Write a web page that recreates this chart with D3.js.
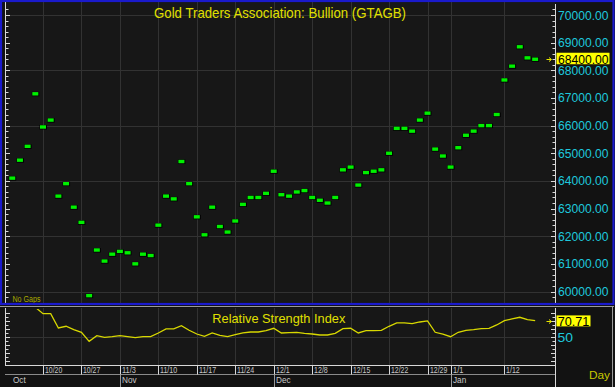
<!DOCTYPE html>
<html><head><meta charset="utf-8">
<script src="https://cdn.jsdelivr.net/npm/d3@7"></script>
<style>body{margin:0;background:#121212;} svg{display:block;font-family:"Liberation Sans",Arial,sans-serif;}</style>
</head><body><svg id="c" width="615" height="387"></svg>
<script>
// ---- data ----
const startDate = "2014-10-14";
const endDate = "2015-01-16";
const price = [64100,64750,65250,67150,65950,66200,63450,63900,63050,62500,
  59850,61500,61100,61350,61450,61400,61000,61350,61300,62400,
  63450,63350,64700,63900,62700,62050,63050,62350,62150,62550,
  63150,63400,63400,63550,64350,63500,63450,63600,63650,63400,
  63300,63200,63400,64400,64500,63850,64300,64350,64400,65000,
  65900,65900,65800,66200,66450,65150,64900,64500,65200,65650,
  65800,66000,66000,66400,67650,68150,68850,68450,68400];
const rsi = [null,null,null,87.5,79.5,79.5,61.6,63.75,59.5,56.25,
  45,52,50,50.75,52,50.75,49.5,50.75,50.75,55.4,
  60.4,60.4,64.5,58.75,54.1,51.25,55.4,52.5,50.75,53.25,
  55.4,56.6,56.6,58.25,61.25,55.4,55.75,56.25,55,54.1,
  52.9,52.9,55,60.75,61.25,55.4,58.25,58.25,58.75,63.75,
  67.9,67.9,67,69.1,70.4,56.25,54.1,50.75,56.25,58.75,
  59.5,60.75,61.25,65.4,70.75,72.9,75,72,70.71];
const weekTicks = ["2014-10-20","2014-10-27","2014-11-03","2014-11-10","2014-11-17","2014-11-24",
  "2014-12-01","2014-12-08","2014-12-15","2014-12-22","2014-12-29","2015-01-01","2015-01-12"];
const weekLabels = ["10/20","10/27","11/3","11/10","11/17","11/24","12/1","12/8","12/15","12/22","12/29","1/1","1/12"];
const monthStarts = ["2014-11-03","2014-12-01","2015-01-01"];
const monthLabels = ["Nov","Dec","Jan"];
const firstMonthLabel = "Oct";
const priceTicks = [60000,61000,62000,63000,64000,65000,66000,67000,68000,69000,70000];
const priceGrid = [60000,62000,64000,66000,68000,70000];
const lastPrice = 68400;
const lastRsi = 70.71;
const rsiRef = 50;
const title = "Gold Traders Association: Bullion (GTAGB)";
const rsiTitle = "Relative Strength Index";

// ---- scales ----
const parse = d3.timeParse("%Y-%m-%d"), fmt = d3.timeFormat("%Y-%m-%d");
const days = d3.timeDay.range(parse(startDate), d3.timeDay.offset(parse(endDate), 1))
  .filter(d => d.getDay() % 6 !== 0).map(fmt);
const x = d3.scalePoint().domain(days).range([12.24, 535.16]);
const y = d3.scaleLinear().domain([60000, 70000]).range([291.5, 15]);
const yr = d3.scaleLinear().domain([50, 70.71]).range([337.3, 320.7]);

const svg = d3.select("#c");
const L = 5, R = 555, T = 2, B = 303, RT = 308, RB = 365;

svg.append("rect").attr("width",615).attr("height",387).attr("fill","#121212");
// main plot bg
svg.append("rect").attr("x",L).attr("y",T).attr("width",R-L).attr("height",B-T).attr("fill","#171717");
svg.append("rect").attr("x",L).attr("y",RT).attr("width",R-L).attr("height",RB-RT).attr("fill","#171717");

const grid = "#323232";
// vertical grid lines
weekTicks.forEach(d => {
  const xx = Math.round(x(d)) + 0.5;
  svg.append("line").attr("x1",xx).attr("x2",xx).attr("y1",T).attr("y2",B).attr("stroke",grid);
  svg.append("line").attr("x1",xx).attr("x2",xx).attr("y1",RT).attr("y2",RB).attr("stroke",grid);
});
priceGrid.forEach(v => {
  const yy = Math.round(y(v)) + 0.5;
  svg.append("line").attr("x1",L).attr("x2",R).attr("y1",yy).attr("y2",yy).attr("stroke",grid);
});
svg.append("line").attr("x1",L).attr("x2",R).attr("y1",Math.round(yr(rsiRef))+0.5).attr("y2",Math.round(yr(rsiRef))+0.5).attr("stroke",grid);

// axes lines and ticks
const axCol = "#d8d8d8";
[[L+0.5,T,B],[R+0.5,T+2,B],[L+0.5,RT,RB],[R+0.5,RT,387]].forEach(a=>{
  svg.append("line").attr("x1",a[0]).attr("x2",a[0]).attr("y1",a[1]).attr("y2",a[2]).attr("stroke",axCol);
});
d3.range(59800, 70201, 200).forEach(v => {
  const yy = Math.round(y(v)) + 0.5;
  if (yy < T+2 || yy > B-1) return;
  const len = v % 1000 === 0 ? 4 : 2.5;
  svg.append("line").attr("x1",L+1).attr("x2",L+1+len).attr("y1",yy).attr("y2",yy).attr("stroke",axCol);
  svg.append("line").attr("x1",R).attr("x2",R-len).attr("y1",yy).attr("y2",yy).attr("stroke",axCol);
});
d3.range(15, 90, 5).forEach(v => {
  const yy = Math.round(yr(v)) + 0.5;
  if (yy < RT+2 || yy > RB-1) return;
  const len = v % 10 === 0 ? 4 : 2.5;
  svg.append("line").attr("x1",L+1).attr("x2",L+1+len).attr("y1",yy).attr("y2",yy).attr("stroke",axCol);
  svg.append("line").attr("x1",R).attr("x2",R-len).attr("y1",yy).attr("y2",yy).attr("stroke",axCol);
});

// price axis labels
const cyan = "#1ec8dc";
priceTicks.forEach(v => {
  svg.append("text").attr("x",558).attr("y",y(v)+4.5).attr("fill",cyan)
    .attr("font-size",12.5).attr("textLength",50.5).attr("lengthAdjust","spacingAndGlyphs")
    .text(v.toFixed(2));
});
// last price marker
svg.append("rect").attr("x",556.5).attr("y",y(lastPrice)-6.5).attr("width",53).attr("height",11.5).attr("fill","#ffff00");
svg.append("text").attr("x",558).attr("y",y(lastPrice)+4.5).attr("fill","#000")
  .attr("font-size",12.5).attr("textLength",50.5).attr("lengthAdjust","spacingAndGlyphs").text(lastPrice.toFixed(2));
function arrow(yy){
  svg.append("line").attr("x1",546.5).attr("x2",551).attr("y1",yy).attr("y2",yy).attr("stroke","#e8e800");
  svg.append("path").attr("d",`M549,${yy-2}L551.5,${yy}L549,${yy+2}`).attr("fill","none").attr("stroke","#e8e800");
}
arrow(Math.round(y(lastPrice))+0.5);

// points
const pts = svg.append("g");
price.forEach((v,i) => {
  const cx = x(days[i]), cy = y(v);
  pts.append("rect").attr("x",cx-3.5).attr("y",cy-2).attr("width",7.5).attr("height",4.5).attr("fill","#000");
  pts.append("rect").attr("x",cx-3).attr("y",cy-1.7).attr("width",6).attr("height",3.4).attr("fill","#00f000");
});

// title
svg.append("text").attr("x",154).attr("y",17.5).attr("fill","#e0e000").attr("font-size",14.5)
  .attr("textLength",252).attr("lengthAdjust","spacingAndGlyphs").text(title);
svg.append("text").attr("x",12.5).attr("y",301.5).attr("fill","#a8a800").attr("font-size",8.5)
  .attr("textLength",28).attr("lengthAdjust","spacingAndGlyphs").text("No Gaps");

// borders
svg.append("rect").attr("x",1).attr("y",1).attr("width",612.5).attr("height",303).attr("fill","none")
  .attr("stroke","#1a1acc").attr("stroke-width",2.2);
svg.append("line").attr("x1",0).attr("x2",614).attr("y1",306.5).attr("y2",306.5).attr("stroke","#9a9a9a");
svg.append("line").attr("x1",612.5).attr("x2",612.5).attr("y1",306).attr("y2",387).attr("stroke","#9a9a9a");

// RSI
svg.append("defs").append("clipPath").attr("id","rc").append("rect")
  .attr("x",L+1).attr("y",RT+1).attr("width",R-L-1).attr("height",RB-RT-1);
const line = d3.line().defined(d => d.v != null).x(d => x(d.d)).y(d => yr(d.v));
svg.append("path").datum(rsi.map((v,i)=>({d:days[i],v}))).attr("clip-path","url(#rc)")
  .attr("d",line).attr("fill","none").attr("stroke","#d8d800").attr("stroke-width",1.3);
svg.append("text").attr("x",212.3).attr("y",322.5).attr("fill","#e0e000").attr("font-size",13.5)
  .attr("textLength",133).attr("lengthAdjust","spacingAndGlyphs").text(rsiTitle);
svg.append("rect").attr("x",556.5).attr("y",yr(lastRsi)-5.3).attr("width",34).attr("height",11).attr("fill","#ffff00");
svg.append("text").attr("x",557.7).attr("y",yr(lastRsi)+4.8).attr("fill","#000")
  .attr("font-size",13).attr("textLength",31.7).attr("lengthAdjust","spacingAndGlyphs").text(lastRsi.toFixed(2));
svg.append("text").attr("x",557.5).attr("y",yr(rsiRef)+5).attr("fill",cyan)
  .attr("font-size",13).attr("textLength",15.5).attr("lengthAdjust","spacingAndGlyphs").text(String(rsiRef));
arrow(Math.round(yr(lastRsi))+0.5);

// date axis
const dim = "#c8c8c8";
svg.append("rect").attr("x",L).attr("y",RB+1).attr("width",R-L).attr("height",387-RB-1).attr("fill","#121212");
svg.append("line").attr("x1",L).attr("x2",R).attr("y1",RB+0.5).attr("y2",RB+0.5).attr("stroke",axCol);
svg.append("line").attr("x1",L).attr("x2",R).attr("y1",374.5).attr("y2",374.5).attr("stroke","#8a8a8a");
weekTicks.forEach((d,i) => {
  const xx = Math.round(x(d)) + 0.5;
  svg.append("line").attr("x1",xx).attr("x2",xx).attr("y1",RB).attr("y2",374.5).attr("stroke",axCol);
  svg.append("text").attr("x",xx+1.5).attr("y",373.3).attr("fill",dim).attr("font-size",8.2)
    .attr("textLength",weekLabels[i].length*3.45).attr("lengthAdjust","spacingAndGlyphs").text(weekLabels[i]);
});
monthStarts.forEach((d,i) => {
  const xx = Math.round(x(d)) + 0.5;
  svg.append("line").attr("x1",xx).attr("x2",xx).attr("y1",374.5).attr("y2",387).attr("stroke","#9a9a9a");
  svg.append("text").attr("x",xx+1.5).attr("y",382.5).attr("fill",dim).attr("font-size",8.2).text(monthLabels[i]);
});
svg.append("text").attr("x",13).attr("y",382.5).attr("fill",dim).attr("font-size",8.2).text(firstMonthLabel);
svg.append("text").attr("x",589).attr("y",379).attr("fill","#c8c800").attr("font-size",10)
  .attr("textLength",21).attr("lengthAdjust","spacingAndGlyphs").text("Day");
</script></body></html>
